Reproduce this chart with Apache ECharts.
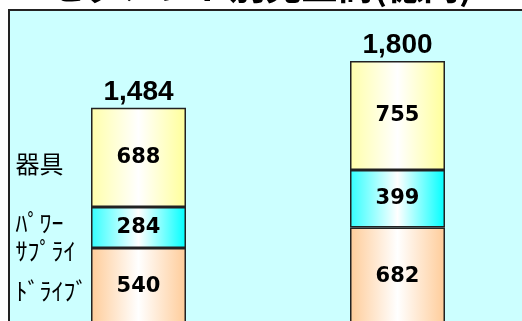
<!DOCTYPE html>
<html>
<head>
<meta charset="utf-8">
<script src="https://cdn.jsdelivr.net/npm/echarts@6/dist/echarts.min.js"></script>
<style>
  html, body { margin: 0; padding: 0; background: #fff; }
  #chart { width: 522px; height: 321px; }
</style>
</head>
<body>
<div id="chart"></div>
<script>
// data
var categories = ['前期', '当期'];
var driveValues = [540, 682];
var powerValues = [284, 399];
var fixtureValues = [688, 755];
var totalValues = [1484, 1800];
var seriesNames = ['ﾄﾞﾗｲﾌﾞ', 'ﾊﾟﾜｰ\nｻﾌﾟﾗｲ', '器具'];

function grad(c1, c2) {
  return new echarts.graphic.LinearGradient(0, 0, 1, 0, [
    { offset: 0, color: c1 },
    { offset: 0.5, color: '#ffffff' },
    { offset: 1, color: c2 }
  ]);
}

function fmtNum(v) {
  return String(v).replace(/\B(?=(\d{3})+(?!\d))/g, ',');
}

var valueLabel = {
  show: true,
  position: 'inside',
  color: '#000',
  fontFamily: 'DejaVu Sans',
  fontWeight: 'bold',
  fontSize: 21
};

// name text beside the first bar, placed at the middle of its segment
function nameMark(name, base, value, dy) {
  return {
    symbol: 'circle',
    symbolSize: 1,
    itemStyle: { color: 'rgba(0,0,0,0)' },
    silent: true,
    data: [{
      coord: [0, base + value / 2],
      label: {
        show: true,
        position: 'inside',
        align: 'left',
        verticalAlign: 'middle',
        offset: [-123, dy],
        formatter: name,
        color: '#000',
        fontFamily: 'Noto Sans CJK JP',
        fontSize: 24,
        lineHeight: 28
      }
    }]
  };
}

var myChart = echarts.init(document.getElementById('chart'));

var option = {
  animation: false,
  backgroundColor: '#ffffff',
  title: {
    text: 'セグメント別売上高(億円)',
    left: 'center',
    top: -37,
    textStyle: {
      fontFamily: 'Noto Sans CJK JP',
      fontWeight: 'bold',
      fontSize: 36,
      color: '#000'
    }
  },
  grid: {
    show: true,
    outerBoundsMode: 'none',
    left: 9,
    right: -5,
    top: 10,
    bottom: -5,
    backgroundColor: '#ccffff',
    borderColor: '#222',
    borderWidth: 2
  },
  xAxis: {
    type: 'category',
    data: categories,
    show: false
  },
  yAxis: {
    type: 'value',
    min: 0,
    max: 2190,
    show: false,
    splitLine: { show: false }
  },
  series: [
    {
      name: 'ドライブ',
      type: 'bar',
      stack: 'Total',
      barWidth: 95,
      data: driveValues,
      itemStyle: { color: grad('#ffcc99', '#ffcc99'), borderColor: '#222', borderWidth: 1.5 },
      label: valueLabel,
      markPoint: nameMark(seriesNames[0], 0, driveValues[0], 4)
    },
    {
      name: 'パワーサプライ',
      type: 'bar',
      stack: 'Total',
      barWidth: 95,
      data: powerValues,
      itemStyle: { color: grad('#33ffff', '#00ffff'), borderColor: '#222', borderWidth: 1.5 },
      label: valueLabel,
      markPoint: nameMark(seriesNames[1], driveValues[0], powerValues[0], 9)
    },
    {
      name: '器具',
      type: 'bar',
      stack: 'Total',
      barWidth: 95,
      data: fixtureValues,
      itemStyle: { color: grad('#ffffaa', '#ffff99'), borderColor: '#222', borderWidth: 1.5 },
      label: valueLabel,
      markPoint: nameMark(seriesNames[2], driveValues[0] + powerValues[0], fixtureValues[0], 6)
    },
    {
      name: 'total',
      type: 'bar',
      stack: 'Total',
      barWidth: 95,
      data: [0, 0],
      itemStyle: { color: 'rgba(0,0,0,0)' },
      label: {
        show: true,
        position: 'top',
        distance: 2,
        color: '#000',
        fontFamily: 'Liberation Sans',
        fontWeight: 'bold',
        fontSize: 28,
        formatter: function (p) { return fmtNum(totalValues[p.dataIndex]); }
      }
    }
  ]
};

myChart.setOption(option);
</script>
</body>
</html>
